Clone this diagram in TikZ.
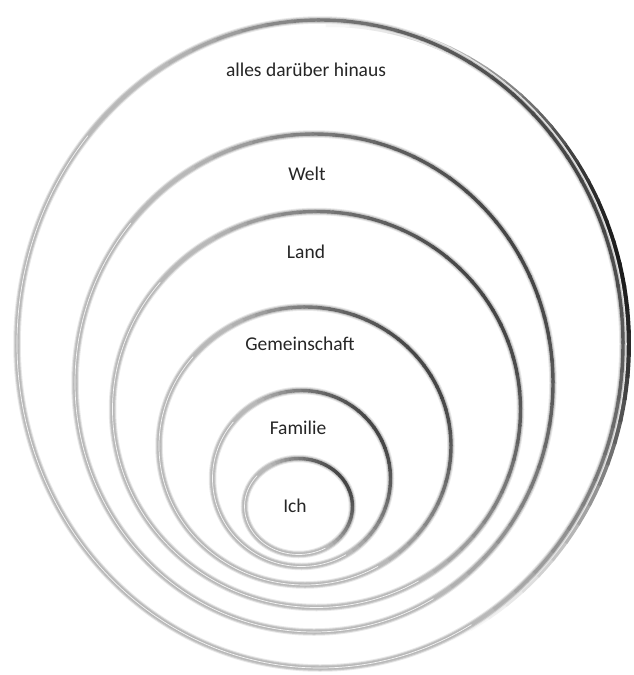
\documentclass[tikz,border=0pt]{standalone}
\usepackage{fontspec}
\setmainfont{Carlito}
\begin{document}
\begin{tikzpicture}[x=1pt,y=-1pt,
  lab/.style={text=black!85, font=\fontsize{19.5}{22}\selectfont, inner sep=0pt},
  ringhalo/.style={line width=7.5pt, draw=black!9},
  ringbody/.style={line width=5.5pt, draw=black!22},
  ringcore/.style={line width=3.4pt},
  ringhigh/.style={line width=0.7pt, draw=white, opacity=0.85}]
\useasboundingbox (0,0) rectangle (633,675);
\fill[white] (0,0) rectangle (633,675);
\newcommand\myring[5]{%
  \coordinate (#5) at (#1,#2);
  \draw[ringhalo] (#5) ellipse [x radius=#3pt, y radius=#4pt];
  \draw[ringbody] (#5) ellipse [x radius=#3pt, y radius=#4pt];
  \foreach \a in {0,5,...,355}{%
    \pgfmathtruncatemacro\k{28+45*max(0,cos(\a-30))}%
    \draw[ringcore, draw=black!\k] (#5) ++(\a:#3pt and #4pt)
      arc[start angle=\a, end angle=\a+5.6, x radius=#3pt, y radius=#4pt];
  }
  \draw[ringhigh] (#5) ++(140:#3pt and #4pt)
      arc[start angle=140, end angle=300, x radius=#3pt, y radius=#4pt];
}
% heavy shadow on the right of the outer ring
\coordinate (cShadow) at (329,344);
\foreach \a in {-90,-86,...,86}{%
  \pgfmathtruncatemacro\k{90*max(0,cos(\a-12))^2.5}%
  \draw[line width=8pt, draw=black!\k] (cShadow) ++(\a:298pt and 321pt)
    arc[start angle=\a, end angle=\a+4.6, x radius=298pt, y radius=321pt];
}
\myring{320}{344}{303}{324}{cAll}
\myring{314}{383}{239}{249}{cWelt}
\myring{316.5}{409.5}{204}{198}{cLand}
\myring{305}{446}{146}{139}{cGem}
\myring{301.5}{478.5}{89}{88}{cFam}
\myring{298.5}{506.5}{54}{48}{cIch}
\node[lab] (tAll) at (306,70) {alles darüber hinaus};
\node[lab] (tWelt) at (307,174) {Welt};
\node[lab] (tLand) at (306,252) {Land};
\node[lab] (tGem) at (300,344) {Gemeinschaft};
\node[lab] (tFam) at (298,428) {Familie};
\node[lab] (tIch) at (295,506) {Ich};
\end{tikzpicture}
\end{document}
